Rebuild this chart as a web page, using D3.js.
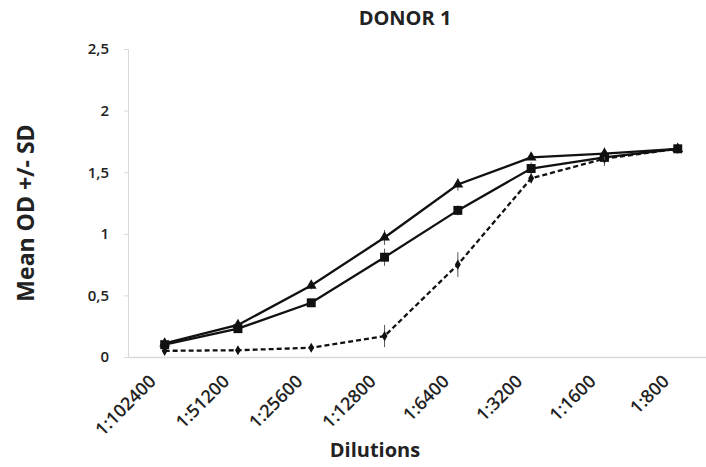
<!DOCTYPE html>
<html>
<head>
<meta charset="utf-8">
<script src="https://cdn.jsdelivr.net/npm/d3@7"></script>
<style>
  body { margin: 0; background: #fff; }
  text { font-family: "Open Sans", sans-serif; }
</style>
</head>
<body>
<svg id="chart" width="706" height="467"></svg>
<script>
// values
var dilutions = ["1:102400", "1:51200", "1:25600", "1:12800", "1:6400", "1:3200", "1:1600", "1:800"];
var triMean = [0.11, 0.26, 0.58, 0.97, 1.40, 1.62, 1.65, 1.69];
var triSD   = [0.02, 0.02, 0.03, 0.06, 0.05, 0.02, 0.05, 0.02];
var sqMean  = [0.10, 0.23, 0.44, 0.81, 1.19, 1.53, 1.62, 1.69];
var sqSD    = [0.02, 0.03, 0.03, 0.07, 0.04, 0.05, 0.04, 0.02];
var diaMean = [0.05, 0.055, 0.075, 0.17, 0.75, 1.45, 1.61, 1.69];
var diaSD   = [0.01, 0.01, 0.02, 0.09, 0.10, 0.04, 0.06, 0.02];
var yTicks = [0, 0.5, 1, 1.5, 2, 2.5];

var svg = d3.select("#chart");
var plotLeft = 128, plotBottom = 357, plotTop = 49;

var x = d3.scaleBand()
    .domain(dilutions)
    .range([plotLeft, plotLeft + 8 * 73.3]);
var y = d3.scaleLinear()
    .domain([0, 2.5])
    .range([plotBottom, plotTop]);

var fmt = function (d) { return String(d).replace(".", ","); };

// y axis
var yAxis = svg.append("g")
    .attr("transform", "translate(" + plotLeft + ",0)")
    .call(d3.axisLeft(y).tickValues(yTicks).tickSize(4).tickFormat(fmt));
yAxis.select(".domain").attr("stroke", "#d9d9d9");
yAxis.selectAll(".tick line").attr("stroke", "#d9d9d9");
yAxis.selectAll(".tick text")
    .attr("x", -19)
    .style("font-size", "15px")
    .style("font-weight", "600")
    .attr("fill", "#222");

// x axis
var xAxis = svg.append("g")
    .attr("transform", "translate(0," + plotBottom + ")")
    .call(d3.axisBottom(x).tickSize(0));
xAxis.select(".domain").attr("stroke", "#d9d9d9").attr("stroke-width", 1.5);
xAxis.selectAll(".tick text")
    .attr("transform", "translate(-12,21) rotate(-45)")
    .attr("text-anchor", "end")
    .attr("dy", "0.35em")
    .attr("y", 0)
    .style("font-size", "18px")
    .style("font-weight", "600")
    .attr("fill", "#222");

var cx = function (d, i) { return x(dilutions[i]) + x.bandwidth() / 2; };

var line = d3.line()
    .x(function (d, i) { return cx(d, i); })
    .y(function (d) { return y(d); });

function drawSeries(mean, sd, dashed, shape, size) {
    var g = svg.append("g");
    // error bars
    g.selectAll("line.err")
        .data(mean)
        .enter()
        .append("line")
        .attr("class", "err")
        .attr("x1", cx).attr("x2", cx)
        .attr("y1", function (d, i) { return y(d - sd[i]); })
        .attr("y2", function (d, i) { return y(d + sd[i]); })
        .attr("stroke", "#555")
        .attr("stroke-width", 1);
    g.append("path")
        .datum(mean)
        .attr("d", line)
        .attr("fill", "none")
        .attr("stroke", "#111")
        .attr("stroke-width", 2.3)
        .attr("stroke-dasharray", dashed ? "5,3" : null);
    g.selectAll("path.mark")
        .data(mean)
        .enter()
        .append("path")
        .attr("class", "mark")
        .attr("d", d3.symbol().type(shape).size(size))
        .attr("transform", function (d, i) {
            return "translate(" + cx(d, i) + "," + y(d) + ")";
        })
        .attr("fill", "#111");
}

drawSeries(diaMean, diaSD, true, d3.symbolDiamond, 30);
drawSeries(sqMean, sqSD, false, d3.symbolSquare, 80);
drawSeries(triMean, triSD, false, d3.symbolTriangle, 50);

// titles
svg.append("text")
    .attr("x", 405)
    .attr("y", 25)
    .attr("text-anchor", "middle")
    .style("font-size", "20px")
    .style("font-weight", "bold")
    .attr("fill", "#222")
    .text("DONOR 1");

svg.append("text")
    .attr("transform", "translate(34,213) rotate(-90)")
    .attr("text-anchor", "middle")
    .style("font-size", "23px")
    .style("font-weight", "bold")
    .attr("fill", "#222")
    .text("Mean OD +/- SD");

svg.append("text")
    .attr("x", 375)
    .attr("y", 457)
    .attr("text-anchor", "middle")
    .style("font-size", "20px")
    .style("font-weight", "bold")
    .attr("fill", "#222")
    .text("Dilutions");
</script>
</body>
</html>
